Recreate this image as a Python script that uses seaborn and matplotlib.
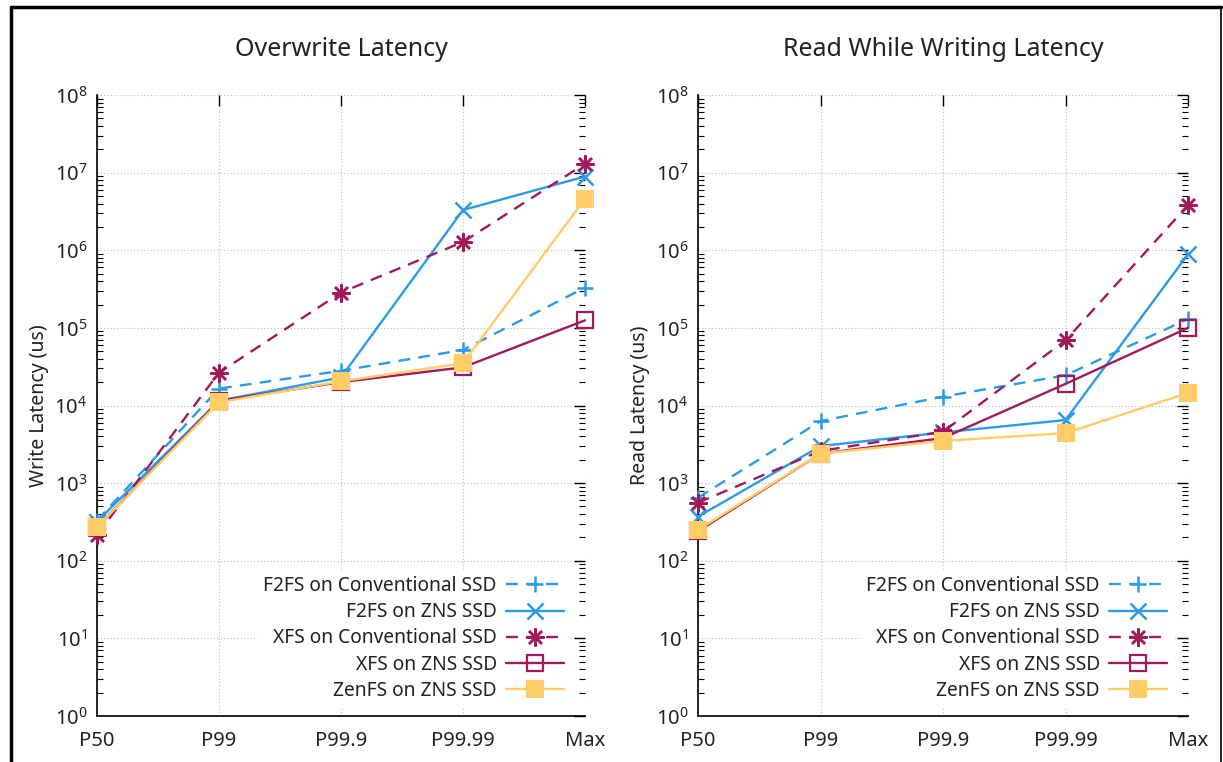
import numpy as np
import pandas as pd
import matplotlib
matplotlib.use("Agg")
import matplotlib.pyplot as plt
from matplotlib.lines import Line2D
from matplotlib.ticker import LogLocator, NullFormatter, FixedLocator, LogFormatterSciNotation
import seaborn as sns

# ---- data ----
percentiles = ["P50", "P99", "P99.9", "P99.99", "Max"]
series_names = ["F2FS on Conventional SSD", "F2FS on ZNS SSD", "XFS on Conventional SSD",
                "XFS on ZNS SSD", "ZenFS on ZNS SSD"]

overwrite_f2fs_conv = [330, 16500, 28000, 52000, 330000]
overwrite_f2fs_zns = [320, 11500, 23000, 3300000, 8900000]
overwrite_xfs_conv = [215, 26500, 285000, 1280000, 13000000]
overwrite_xfs_zns = [270, 11500, 20000, 31000, 125000]
overwrite_zenfs_zns = [270, 11000, 20500, 35000, 4600000]

read_f2fs_conv = [650, 6300, 13000, 24500, 130000]
read_f2fs_zns = [370, 3000, 4500, 6500, 890000]
read_xfs_conv = [560, 2600, 4600, 69000, 3800000]
read_xfs_zns = [240, 2400, 3800, 19000, 100000]
read_zenfs_zns = [250, 2400, 3500, 4400, 14500]

y_ticks = [1, 10, 100, 1e3, 1e4, 1e5, 1e6, 1e7, 1e8]

titles = ["Overwrite Latency", "Read While Writing Latency"]
ylabels = ["Write Latency (us)", "Read Latency (us)"]

# ---- styles ----
BLUE = "#2b9be6"
RED = "#a01a5c"
YELLOW = "#ffcc66"
styles = {
    "F2FS on Conventional SSD": dict(color=BLUE, linestyle=(0, (5, 3.5)), marker="+", markersize=12,
                                     markeredgewidth=1.8, markeredgecolor=BLUE),
    "F2FS on ZNS SSD": dict(color=BLUE, linestyle="-", marker="x", markersize=11, markeredgewidth=1.8,
                            markeredgecolor=BLUE),
    "XFS on Conventional SSD": dict(color=RED, linestyle=(0, (5, 3.5)), marker=(8, 2, 0), markersize=13,
                                    markeredgewidth=1.8, markeredgecolor=RED),
    "XFS on ZNS SSD": dict(color=RED, linestyle="-", marker="s", markersize=11, markeredgewidth=1.6,
                           markerfacecolor="none", markeredgecolor=RED),
    "ZenFS on ZNS SSD": dict(color=YELLOW, linestyle="-", marker="s", markersize=13, markeredgewidth=0,
                             markerfacecolor=YELLOW, markeredgecolor=YELLOW),
}

sns.set_theme(style="white")
plt.rcParams["font.family"] = ["Noto Sans", "DejaVu Sans"]
plt.rcParams["mathtext.default"] = "regular"

fig = plt.figure(figsize=(12.23, 7.62), dpi=100)
W, H = 1223, 762
bottom_px, top_px = 716, 95
axes_specs = [(97, 585), (698, 1188)]
TXT = "#222222"

datasets = [
    [overwrite_f2fs_conv, overwrite_f2fs_zns, overwrite_xfs_conv, overwrite_xfs_zns, overwrite_zenfs_zns],
    [read_f2fs_conv, read_f2fs_zns, read_xfs_conv, read_xfs_zns, read_zenfs_zns],
]

for i, (x0, x1) in enumerate(axes_specs):
    ax = fig.add_axes([x0 / W, 1 - bottom_px / H, (x1 - x0) / W, (bottom_px - top_px) / H])
    xs = np.arange(len(percentiles))
    for name, vals in zip(series_names, datasets[i]):
        df = pd.DataFrame({"pct": xs, "val": vals})
        sns.lineplot(data=df, x="pct", y="val", ax=ax, label=name, linewidth=1.7,
                     sort=False, clip_on=False, zorder=3, **styles[name])
    ax.set_yscale("log")
    ax.set_ylim(1, 1e8)
    ax.set_xlim(0, 4)
    ax.xaxis.set_major_locator(FixedLocator(xs))
    ax.set_xticklabels(percentiles)
    ax.yaxis.set_major_locator(FixedLocator(y_ticks))
    ax.yaxis.set_major_formatter(LogFormatterSciNotation(base=10))
    ax.yaxis.set_minor_locator(LogLocator(base=10, subs=np.arange(2, 10), numticks=100))
    ax.yaxis.set_minor_formatter(NullFormatter())
    ax.tick_params(axis="both", which="major", direction="in", length=8, width=1, color="black",
                   labelsize=14.5, top=True, right=True, labelcolor=TXT)
    ax.tick_params(axis="x", which="major", pad=11)
    ax.tick_params(axis="y", which="major", pad=7)
    ax.tick_params(axis="y", which="minor", direction="in", length=4, width=0.8, color="black",
                   right=True, left=True)
    for s in ["top", "right"]:
        ax.spines[s].set_visible(False)
    for s in ["left", "bottom"]:
        ax.spines[s].set_color("black")
        ax.spines[s].set_linewidth(1.2)
    ax.grid(True, which="major", linestyle=(0, (1, 2)), color="#bbbbbb", linewidth=0.8)
    ax.set_axisbelow(True)
    ax.set_xlabel("")
    ax.xaxis.label.set_visible(False)
    ax.set_ylabel(ylabels[i], fontsize=14, color=TXT, labelpad=4)
    ax.set_title(titles[i], fontsize=18, color=TXT, pad=28)
    leg = ax.legend(loc="lower right", bbox_to_anchor=(0.988, 0.0), frameon=True, fontsize=13.8,
                    markerfirst=False, handlelength=3.0, labelspacing=0.32, borderpad=0.3,
                    handletextpad=0.5, alignment="right")
    leg.get_frame().set_facecolor("white")
    leg.get_frame().set_edgecolor("white")
    leg.get_frame().set_alpha(1)
    for t in leg.get_texts():
        t.set_color(TXT)
        t.set_ha("right")
    leg.set_zorder(5)

# outer frame
fig.add_artist(Line2D([11 / W, 11 / W], [0, 1 - 7 / H], transform=fig.transFigure, color="black", lw=2.5))
fig.add_artist(Line2D([11 / W, 1221 / W], [1 - 7 / H, 1 - 7 / H], transform=fig.transFigure, color="black", lw=2.5))
fig.add_artist(Line2D([1221 / W, 1221 / W], [0, 1 - 7 / H], transform=fig.transFigure, color="black", lw=1.2))

fig.savefig("out.png", dpi=100)
